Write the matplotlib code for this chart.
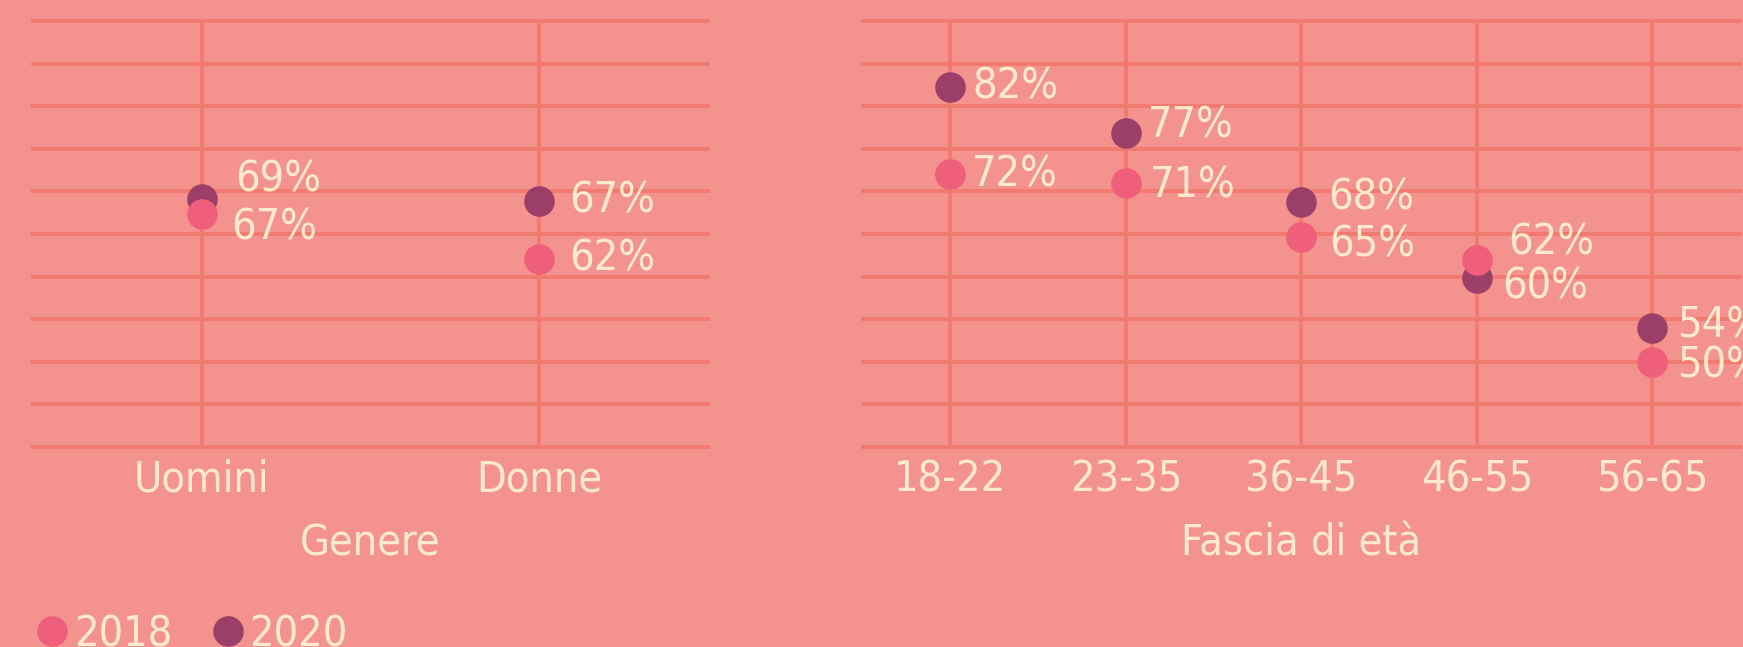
import matplotlib
matplotlib.use("Agg")
import matplotlib.pyplot as plt
from matplotlib.lines import Line2D
from matplotlib import font_manager

# dati (posizione dei punti) ed etichette come stampate
genere = ["Uomini", "Donne"]
genere_2018 = [67.3, 62.1]
genere_2020 = [69.1, 68.9]
etich_gen_2018 = ["67%", "62%"]
etich_gen_2020 = ["69%", "67%"]

eta = ["18-22", "23-35", "36-45", "46-55", "56-65"]
eta_2018 = [72, 71, 64.7, 62, 50]
eta_2020 = [82.3, 76.9, 68.8, 59.8, 54]
etich_eta_2018 = ["72%", "71%", "65%", "62%", "50%"]
etich_eta_2020 = ["82%", "77%", "68%", "60%", "54%"]

anni = ["2018", "2020"]

# spostamento etichette (pixel, y verso l'alto) per non sovrapporle
off_gen_2018 = [(30, -13), (30, 0)]
off_gen_2020 = [(34, 20), (30, 0)]
off_eta_2018 = [(22, 0), (24, -3), (28, -8), (31, 17), (25, -4)]
off_eta_2020 = [(22, 0), (22, 7), (27, 4), (25, -8), (25, 2)]

SFONDO = "#F4928E"
GRIGLIA = "#F27A70"
TESTO = "#FFEBCB"
COL_2018 = "#EF5F7B"
COL_2020 = "#9C3F68"

nomi = {f.name for f in font_manager.fontManager.ttflist}
famiglia = ["Liberation Sans Narrow", "DejaVu Sans"] if "Liberation Sans Narrow" in nomi else ["DejaVu Sans"]
plt.rcParams["font.family"] = famiglia
plt.rcParams["font.stretch"] = "condensed"

FS = 31
MS = 21

fig = plt.figure(figsize=(17.43, 6.47), dpi=100, facecolor=SFONDO)
ax1 = fig.add_axes([0.0189, 0.309, 0.3873, 0.6584])
ax2 = fig.add_axes([0.4949, 0.309, 0.5035, 0.6584])


def disegna(ax, cat, v18, v20, e18, e20, off18, off20, titolo):
    ax.set_facecolor(SFONDO)
    x = list(range(len(cat)))
    ax.set_xlim(-0.5, len(cat) - 0.5)
    ax.set_ylim(40, 90)
    ax.set_yticks(range(40, 91, 5))
    ax.set_xticks(x)
    ax.set_xticklabels(cat)
    ax.tick_params(axis="both", length=0, labelleft=False, labelsize=FS, colors=TESTO, pad=8)
    ax.grid(True, color=GRIGLIA, linewidth=2.8)
    ax.set_axisbelow(True)
    for gl in ax.get_ygridlines() + ax.get_xgridlines():
        gl.set_clip_on(False)
    for s in ax.spines.values():
        s.set_visible(False)
    ax.set_xlabel(titolo, color=TESTO, fontsize=FS, labelpad=16)

    ax.plot(x, v20, "o", color=COL_2020, markersize=MS, zorder=3)
    ax.plot(x, v18, "o", color=COL_2018, markersize=MS, zorder=4)
    for xi, v, t, o in zip(x, v20, e20, off20):
        ax.annotate(t, (xi, v), xytext=o, textcoords="offset pixels",
                    ha="left", va="center", color=TESTO, fontsize=FS,
                    annotation_clip=False)
    for xi, v, t, o in zip(x, v18, e18, off18):
        ax.annotate(t, (xi, v), xytext=o, textcoords="offset pixels",
                    ha="left", va="center", color=TESTO, fontsize=FS,
                    annotation_clip=False)


disegna(ax1, genere, genere_2018, genere_2020, etich_gen_2018, etich_gen_2020,
        off_gen_2018, off_gen_2020, "Genere")
disegna(ax2, eta, eta_2018, eta_2020, etich_eta_2018, etich_eta_2020,
        off_eta_2018, off_eta_2020, "Fascia di età")

maniglie = [Line2D([], [], marker="o", linestyle="", color=c, markersize=MS)
            for c in (COL_2018, COL_2020)]
fig.legend(maniglie, anni, loc="center left", bbox_to_anchor=(0.0126, 0.02),
           ncol=2, frameon=False, fontsize=FS, labelcolor=TESTO,
           handletextpad=0.0, columnspacing=0.8, handlelength=1.0,
           borderpad=0.0, borderaxespad=0.2)

fig.savefig("out.png", dpi=100, facecolor=SFONDO)
